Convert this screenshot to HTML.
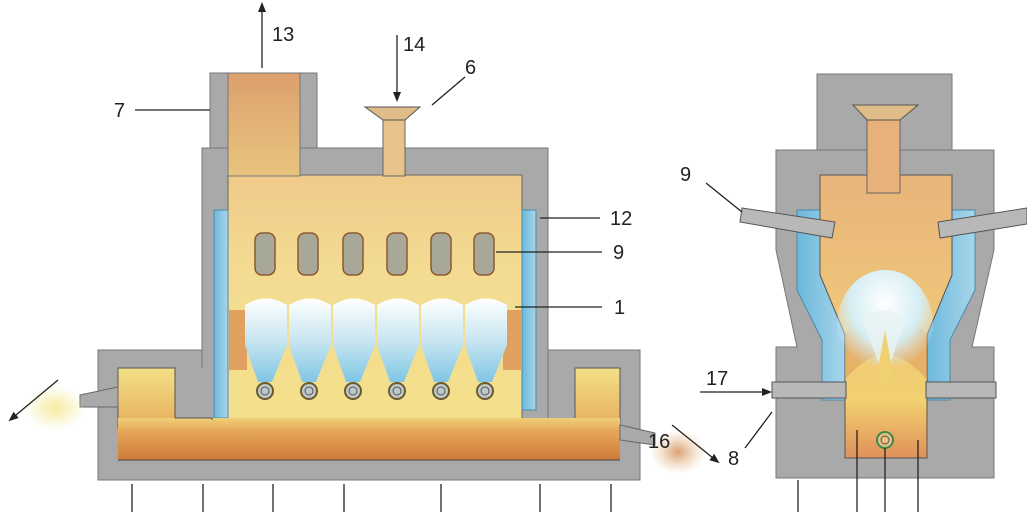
<!DOCTYPE html>
<html><head><meta charset="utf-8"><style>
html,body{margin:0;padding:0;background:#fff;}
svg{display:block;}
text{font-family:"Liberation Sans",sans-serif;font-size:20px;fill:#222;}
</style></head><body>
<svg width="1027" height="512" viewBox="0 0 1027 512" xmlns="http://www.w3.org/2000/svg">
<defs>
<linearGradient id="ch" x1="0" y1="0" x2="0" y2="1"><stop offset="0" stop-color="#f0ca8a"/><stop offset="0.4" stop-color="#f3dc92"/><stop offset="1" stop-color="#f4e08c"/></linearGradient>
<linearGradient id="chim" x1="0" y1="0" x2="0" y2="1"><stop offset="0" stop-color="#dca06c"/><stop offset="1" stop-color="#e8c47e"/></linearGradient>
<linearGradient id="trough" x1="0" y1="0" x2="0" y2="1"><stop offset="0" stop-color="#f0cf78"/><stop offset="0.3" stop-color="#e6a85a"/><stop offset="1" stop-color="#cf7a3a"/></linearGradient>
<linearGradient id="box" x1="0" y1="0" x2="0" y2="1"><stop offset="0" stop-color="#f3e088"/><stop offset="1" stop-color="#e7ad5c"/></linearGradient>
<linearGradient id="flame" x1="0" y1="0" x2="0" y2="1"><stop offset="0" stop-color="#ffffff"/><stop offset="0.5" stop-color="#c8e6f0"/><stop offset="1" stop-color="#7fc6e6"/></linearGradient>
<linearGradient id="blue" x1="0" y1="0" x2="1" y2="0"><stop offset="0" stop-color="#6cb8dc"/><stop offset="1" stop-color="#a8d6ea"/></linearGradient>
<linearGradient id="rch" x1="0" y1="0" x2="0" y2="1"><stop offset="0" stop-color="#e8b47a"/><stop offset="0.5" stop-color="#efc67a"/><stop offset="0.8" stop-color="#f2d070"/><stop offset="1" stop-color="#e0905a"/></linearGradient>
<radialGradient id="rfl" cx="0.5" cy="0.3" r="0.6"><stop offset="0" stop-color="#ffffff"/><stop offset="0.6" stop-color="#d6eef4"/><stop offset="1" stop-color="#d6eef4" stop-opacity="0"/></radialGradient>
<radialGradient id="spray" cx="0.5" cy="0.5" r="0.5"><stop offset="0" stop-color="#f5eba0"/><stop offset="1" stop-color="#f5eba0" stop-opacity="0"/></radialGradient>
<radialGradient id="spray2" cx="0.5" cy="0.5" r="0.5"><stop offset="0" stop-color="#d9a070"/><stop offset="1" stop-color="#e8c8a0" stop-opacity="0"/></radialGradient>
<marker id="ar" markerWidth="10" markerHeight="10" refX="8" refY="5" orient="auto" markerUnits="userSpaceOnUse"><path d="M0,1 L10,5 L0,9 Z" fill="#222"/></marker>
</defs>

<rect x="98" y="350" width="542" height="130" fill="#a9a9a9" stroke="#777"/>
<rect x="210" y="73" width="107" height="80" fill="#a9a9a9" stroke="#777"/>
<rect x="202" y="148" width="346" height="275" fill="#a9a9a9" stroke="#777"/>
<rect x="192" y="368" width="20" height="55" fill="#a9a9a9"/>
<rect x="228" y="175" width="294" height="245" fill="url(#ch)" stroke="#666"/>
<rect x="228" y="73" width="72" height="103" fill="url(#chim)" stroke="#777"/>
<rect x="229" y="310" width="18" height="60" fill="#e0a060"/>
<rect x="503" y="310" width="18" height="60" fill="#e0a060"/>
<rect x="214" y="210" width="14" height="208" fill="url(#blue)" stroke="#4a8aa8"/>
<rect x="522" y="210" width="14" height="200" fill="url(#blue)" stroke="#4a8aa8"/>
<rect x="118" y="368" width="57" height="60" fill="url(#box)" stroke="#555"/>
<rect x="575" y="368" width="45" height="60" fill="url(#box)" stroke="#555"/>
<rect x="118" y="418" width="502" height="42" fill="url(#trough)"/>
<path d="M118,460 L620,460" stroke="#444"/>
<path d="M175,418 L212,418 L212,420" stroke="#555" fill="none"/>
<path d="M80,395 L118,387 L118,407 L80,407 Z" fill="#aaa" stroke="#666"/>
<ellipse cx="55" cy="408" rx="30" ry="22" fill="url(#spray)"/>
<path d="M620,425 L655,433 L655,445 L620,440 Z" fill="#aaa" stroke="#666"/>
<ellipse cx="678" cy="452" rx="28" ry="22" fill="url(#spray2)"/>
<rect x="383" y="118" width="22" height="58" fill="#e8c48a" stroke="#666"/>
<path d="M365,107 L420,107 L405,120 L383,120 Z" fill="#e0bc88" stroke="#555"/>
<g fill="#a8a898" stroke="#8a5a30" stroke-width="1.5">
<rect x="255" y="233" width="20" height="42" rx="7"/>
<rect x="298" y="233" width="20" height="42" rx="7"/>
<rect x="343" y="233" width="20" height="42" rx="7"/>
<rect x="387" y="233" width="20" height="42" rx="7"/>
<rect x="431" y="233" width="20" height="42" rx="7"/>
<rect x="474" y="233" width="20" height="42" rx="7"/>
</g>
<g fill="url(#flame)">
<path d="M245,305 Q266,292 287,305 L287,345 L272,382 L258,382 L245,345 Z"/>
<path d="M289,305 Q310,292 331,305 L331,345 L316,382 L302,382 L289,345 Z"/>
<path d="M333,305 Q354,292 375,305 L375,345 L360,382 L346,382 L333,345 Z"/>
<path d="M377,305 Q398,292 419,305 L419,345 L404,382 L390,382 L377,345 Z"/>
<path d="M421,305 Q442,292 463,305 L463,345 L448,382 L434,382 L421,345 Z"/>
<path d="M465,305 Q486,292 507,305 L507,345 L492,382 L478,382 L465,345 Z"/>
</g>
<g fill="#bfc8c8" stroke="#6a5a30" stroke-width="2">
<circle cx="265" cy="391" r="8"/><circle cx="309" cy="391" r="8"/><circle cx="353" cy="391" r="8"/>
<circle cx="397" cy="391" r="8"/><circle cx="441" cy="391" r="8"/><circle cx="485" cy="391" r="8"/>
</g>
<g fill="none" stroke="#555" stroke-width="1"><circle cx="265" cy="391" r="4"/><circle cx="309" cy="391" r="4"/><circle cx="353" cy="391" r="4"/><circle cx="397" cy="391" r="4"/><circle cx="441" cy="391" r="4"/><circle cx="485" cy="391" r="4"/></g>

<rect x="817" y="74" width="135" height="80" fill="#a9a9a9" stroke="#777"/>
<path d="M776,150 L994,150 L994,250 L972,347 L994,347 L994,478 L776,478 L776,347 L797,347 L776,250 Z" fill="#a9a9a9" stroke="#777"/>
<path d="M797,210 L822,210 L822,270 L846,330 L846,400 L822,400 L822,340 L797,290 Z" fill="url(#blue)" stroke="#4a8aa8"/>
<path d="M975,210 L950,210 L950,270 L926,330 L926,400 L950,400 L950,340 L975,290 Z" fill="url(#blue)" stroke="#4a8aa8"/>
<path d="M820,175 L952,175 L952,275 L927,335 L927,458 L845,458 L845,335 L820,275 Z" fill="url(#rch)" stroke="#555"/>
<path d="M845,335 Q885,280 927,335 L927,380 Q885,330 845,380 Z" fill="#e0a060" opacity="0.6"/>
<ellipse cx="885" cy="325" rx="48" ry="55" fill="url(#rfl)"/>
<path d="M862,320 L885,380 L905,320 Q885,300 862,320 Z" fill="#e8f2f2" opacity="0.8"/>
<path d="M875,385 L885,330 L895,385 Z" fill="#f0d070"/>
<rect x="867" y="118" width="33" height="75" fill="#e8b07a" stroke="#666"/>
<path d="M853,105 L918,105 L900,120 L867,120 Z" fill="#e0bc88" stroke="#555"/>
<path d="M742,208 L835,222 L832,238 L740,222 Z" fill="#b8b8b8" stroke="#555"/>
<path d="M938,222 L1027,208 L1027,224 L940,238 Z" fill="#b8b8b8" stroke="#555"/>
<rect x="772" y="382" width="74" height="16" fill="#b8b8b8" stroke="#555"/>
<rect x="926" y="382" width="70" height="16" fill="#b8b8b8" stroke="#555"/>
<circle cx="885" cy="440" r="8" fill="#e8c080" stroke="#3a8a50" stroke-width="2"/>
<circle cx="885" cy="440" r="4" fill="none" stroke="#555"/>

<g stroke="#222" stroke-width="1.3" fill="none">
<line x1="262" y1="68" x2="262" y2="4" marker-end="url(#ar)"/>
<line x1="397" y1="35" x2="397" y2="100" marker-end="url(#ar)"/>
<line x1="465" y1="77" x2="432" y2="105"/>
<line x1="135" y1="110" x2="210" y2="110"/>
<line x1="540" y1="218" x2="600" y2="218"/>
<line x1="496" y1="252" x2="602" y2="252"/>
<line x1="515" y1="307" x2="602" y2="307"/>
<line x1="58" y1="380" x2="10" y2="420" marker-end="url(#ar)"/>
<line x1="672" y1="425" x2="718" y2="462" marker-end="url(#ar)"/>
<line x1="706" y1="183" x2="742" y2="212"/>
<line x1="700" y1="392" x2="770" y2="392" marker-end="url(#ar)"/>
<line x1="745" y1="448" x2="772" y2="412"/>
<line x1="132" y1="484" x2="132" y2="512"/><line x1="203" y1="484" x2="203" y2="512"/>
<line x1="273" y1="484" x2="273" y2="512"/><line x1="344" y1="484" x2="344" y2="512"/>
<line x1="441" y1="484" x2="441" y2="512"/><line x1="540" y1="484" x2="540" y2="512"/>
<line x1="611" y1="484" x2="611" y2="512"/>
<line x1="798" y1="480" x2="798" y2="512"/><line x1="857" y1="430" x2="857" y2="512"/>
<line x1="885" y1="448" x2="885" y2="512"/><line x1="918" y1="440" x2="918" y2="512"/>
</g>
<text x="272" y="41">13</text>
<text x="403" y="51">14</text>
<text x="465" y="74">6</text>
<text x="114" y="117">7</text>
<text x="610" y="225">12</text>
<text x="613" y="259">9</text>
<text x="614" y="314">1</text>
<text x="648" y="448">16</text>
<text x="680" y="181">9</text>
<text x="706" y="385">17</text>
<text x="728" y="465">8</text>
</svg>
</body></html>
